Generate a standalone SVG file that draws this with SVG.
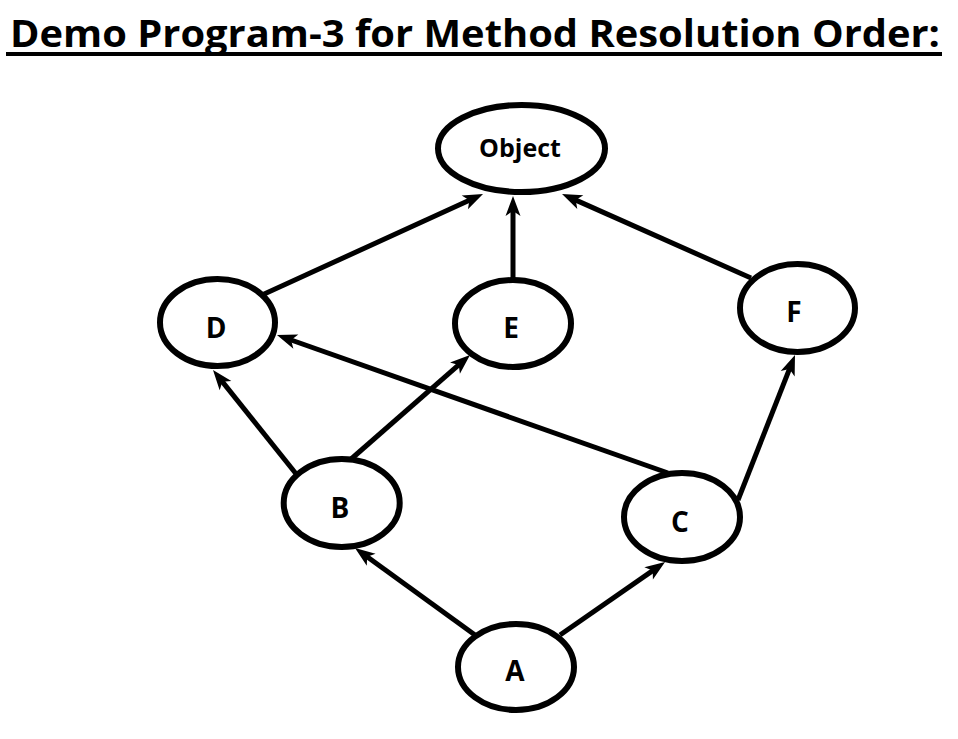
<svg xmlns="http://www.w3.org/2000/svg" width="958" height="739" viewBox="0 0 958 739">
<style>
.node{fill:#fff;stroke:#000;stroke-width:6}
.lbl{font-family:"Open Sans","Liberation Sans",sans-serif;font-weight:bold;font-size:28px;fill:#000;text-anchor:middle}
.edge{stroke:#000;stroke-width:5;fill:none;marker-end:url(#arr)}
.title{font-family:"Open Sans","Liberation Sans",sans-serif;font-weight:bold;font-size:37px;fill:#000}
</style>
<defs>
<marker id="arr" markerUnits="userSpaceOnUse" orient="auto" refX="0" refY="0" markerWidth="30" markerHeight="30" overflow="visible">
<path d="M12,0 L-8,-7.5 L-3,0 L-8,7.5 Z" fill="#000"/>
</marker>
</defs>
<rect width="958" height="739" fill="#fff"/>
<g id="title">
<text class="title" x="10" y="47" textLength="930" lengthAdjust="spacingAndGlyphs">Demo Program-3 for Method Resolution Order:</text>
<rect x="6" y="52" width="936" height="4" fill="#000"/>
</g>
<g id="connectors">
<line class="edge" x1="262" y1="295" x2="472.1" y2="199.0"/>
<line class="edge" x1="513" y1="280" x2="513" y2="208"/>
<line class="edge" x1="751" y1="278" x2="573.0" y2="198.9"/>
<line class="edge" x1="297" y1="475" x2="220.5" y2="379.4"/>
<line class="edge" x1="350" y1="460" x2="461.0" y2="362.9"/>
<line class="edge" x1="668" y1="473" x2="288.3" y2="339.0"/>
<line class="edge" x1="738" y1="500" x2="790.6" y2="366.2"/>
<line class="edge" x1="475" y1="635" x2="364.7" y2="555.1"/>
<line class="edge" x1="560" y1="635" x2="655.2" y2="568.9"/>
</g>
<g id="node-object">
<ellipse class="node" cx="521.5" cy="148.5" rx="83.5" ry="43.5"/>
<text class="lbl" x="520" y="157" style="font-size:25px">Object</text>
</g>
<g id="node-d">
<ellipse class="node" cx="217.5" cy="322.5" rx="57.5" ry="43.5"/>
<text class="lbl" x="216" y="338">D</text>
</g>
<g id="node-e">
<ellipse class="node" cx="513" cy="323.5" rx="58" ry="43.5"/>
<text class="lbl" x="511" y="338">E</text>
</g>
<g id="node-f">
<ellipse class="node" cx="797.5" cy="308" rx="57.5" ry="44"/>
<text class="lbl" x="794" y="322">F</text>
</g>
<g id="node-b">
<ellipse class="node" cx="341.7" cy="503" rx="58" ry="44"/>
<text class="lbl" x="340" y="518">B</text>
</g>
<g id="node-c">
<ellipse class="node" cx="682" cy="517" rx="58" ry="44"/>
<text class="lbl" x="680" y="532">C</text>
</g>
<g id="node-a">
<ellipse class="node" cx="516" cy="667" rx="58" ry="43"/>
<text class="lbl" x="515" y="681">A</text>
</g>
</svg>
